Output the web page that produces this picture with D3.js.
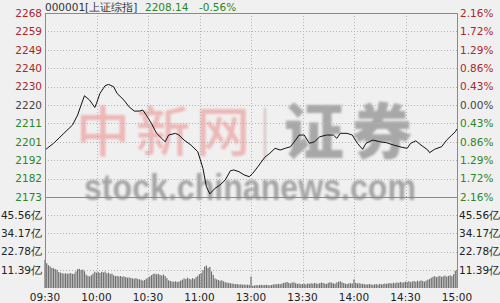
<!DOCTYPE html>
<html>
<head>
<meta charset="utf-8">
<script src="https://cdn.jsdelivr.net/npm/d3@7"></script>
<style>
  html, body { margin: 0; padding: 0; background: #f0f0f0; }
  svg { display: block; }
</style>
</head>
<body>
<div id="chart"></div>
<script>
// header
const indexName = "000001[上证综指]";
const lastPrice = "2208.14";
const lastChange = "-0.56%";
const preClose = 2220.57;

// price axis labels, top to bottom
const priceLabels = ["2268", "2259", "2249", "2240", "2230", "2220", "2211", "2201", "2192", "2182", "2173"];
const pctLabels = ["2.16%", "1.72%", "1.29%", "0.86%", "0.43%", "0.00%", "0.43%", "0.86%", "1.29%", "1.72%", "2.16%"];
const pctSteps = [5, 4, 3, 2, 1, 0, -1, -2, -3, -4, -5];

// volume axis (亿)
const volTicks = [45.56, 34.17, 22.78, 11.39];
const volMax = 56.95;

// time axis: minute index of the trading day (0..240)
const timeTicks = [0, 30, 60, 90, 120, 150, 180, 210, 240];
const timeLabels = ["09:30", "10:00", "10:30", "11:00", "13:00", "13:30", "14:00", "14:30", "15:00"];

// price line
const priceMinute = [0, 5, 11, 16, 19, 21, 23, 26, 29, 30, 32, 35, 37, 40, 42, 46, 49, 52, 55, 57, 59,
  62, 65, 68, 70, 72, 76, 78, 81, 85, 89, 92, 94, 96, 99, 102, 105, 108, 110, 113, 116, 119,
  121, 124, 128, 131, 134, 137, 140, 143, 146, 148, 151, 154, 157, 160, 164, 168, 170, 172, 176, 179,
  182, 185, 187, 191, 195, 199, 203, 208, 211, 213, 216, 219, 223, 224, 227, 231, 234, 237, 239, 240];
const priceValue = [2197.1, 2200.6, 2205.8, 2210.1, 2215.3, 2220.5, 2225.4, 2223.1, 2219.3, 2221.4, 2226.6, 2230.6, 2231.3, 2230.1, 2226.6, 2223.1, 2219.6, 2217.4, 2217.4, 2217.9, 2215.3,
  2211.0, 2205.8, 2203.2, 2201.4, 2204.9, 2205.8, 2204.9, 2202.3, 2199.7, 2196.2, 2187.6, 2178.0, 2174.2, 2177.1, 2178.9, 2181.5, 2186.3, 2186.7, 2185.8, 2184.1, 2183.2,
  2184.9, 2188.4, 2193.3, 2195.4, 2198.0, 2197.1, 2198.0, 2198.8, 2202.3, 2204.9, 2204.9, 2200.6, 2201.4, 2204.0, 2204.9, 2204.9, 2203.2, 2205.8, 2205.8, 2204.9,
  2200.6, 2197.5, 2200.6, 2202.3, 2201.4, 2200.9, 2199.7, 2198.5, 2198.0, 2200.6, 2201.9, 2199.7, 2197.1, 2195.7, 2197.5, 2198.8, 2202.3, 2204.9, 2206.6, 2208.1];

// volume per minute (亿), minute 0..240
const volume = [
  17.6, 15.5, 14.3, 13.5, 12.6, 12.4, 11.8, 11.4, 10.0, 9.6,
  9.3, 9.0, 9.2, 8.9, 9.1, 9.3, 8.8, 9.0, 10.4, 11.8,
  12.0, 11.2, 11.6, 10.5, 8.4, 7.6, 7.2, 8.0, 9.0, 10.2,
  9.6, 10.0, 9.4, 10.1, 9.8, 10.3, 9.2, 9.6, 8.8, 9.0,
  8.0, 7.4, 7.6, 7.2, 7.5, 7.0, 7.3, 6.8, 6.5, 6.6,
  6.3, 6.0, 5.8, 6.2, 5.6, 5.4, 5.2, 4.6, 5.0, 5.8,
  6.4, 7.2, 8.0, 8.8, 9.0, 8.6, 8.9, 8.2, 7.8, 8.4,
  7.5, 6.2, 4.8, 4.4, 4.1, 3.9, 4.2, 3.8, 4.0, 4.6,
  5.2, 6.0, 5.6, 6.4, 5.8, 5.4, 6.2, 5.6, 6.8, 7.6,
  8.6, 9.4, 11.2, 13.4, 14.0, 12.6, 13.2, 10.4, 8.2, 6.0,
  5.4, 5.0, 4.6, 4.8, 4.2, 3.6, 3.4, 3.2, 3.0, 2.8,
  2.6, 2.4, 2.5, 2.2, 2.3, 2.1, 2.2, 2.0, 2.1, 1.9,
  7.2, 1.4, 1.6, 1.8, 1.7, 1.9, 2.0, 1.8, 1.9, 2.0,
  1.8, 1.7, 1.9, 2.2, 2.4, 2.3, 2.6, 2.4, 2.8, 3.2,
  3.4, 3.8, 3.2, 2.9, 3.4, 3.6, 3.0, 2.6, 2.8, 2.4,
  2.5, 2.7, 2.3, 2.8, 2.6, 3.0, 2.7, 3.2, 2.9, 2.6,
  3.0, 3.4, 3.1, 2.8, 2.5, 3.2, 3.6, 3.3, 2.9, 2.7,
  3.5, 3.9, 4.2, 3.6, 3.1, 2.7, 2.5, 2.9, 3.0, 2.8,
  5.4, 3.2, 2.9, 3.0, 2.7, 2.6, 2.4, 2.2, 2.3, 2.5,
  2.2, 2.0, 2.3, 2.4, 2.1, 2.6, 2.3, 2.5, 2.8, 2.6,
  2.9, 3.1, 2.8, 3.3, 3.0, 3.5, 3.2, 3.8, 3.4, 3.6,
  4.0, 3.7, 4.3, 3.6, 4.1, 4.4, 3.9, 4.6, 4.2, 4.8,
  4.4, 4.0, 4.6, 5.2, 5.6, 6.4, 7.0, 7.4, 6.8, 7.2,
  7.6, 7.0, 7.3, 7.8, 7.1, 7.6, 8.0, 7.4, 8.6, 10.8,
  11.4];

const width = 500, height = 303;
const plotLeft = 45, plotRight = 457, plotTop = 13, plotMid = 197, plotBottom = 288;
const red = "#a8282c", green = "#2a862a", neutral = "#444";
const frame = "#7f8d9a", grid = "#b4b4b4";
const font = "'DejaVu Sans', Verdana, sans-serif";

const svg = d3.select("#chart").append("svg")
    .attr("width", width)
    .attr("height", height);

svg.append("rect").attr("width", width).attr("height", height).attr("fill", "#f0f0f0");

const x = d3.scaleLinear().domain([0, 240]).range([plotLeft, plotRight]);
const pctStep = 0.00432;
const yP = d3.scaleLinear()
    .domain([preClose * (1 - 5 * pctStep), preClose * (1 + 5 * pctStep)])
    .range([plotMid, plotTop]);
const yV = d3.scaleLinear().domain([0, volMax]).range([plotBottom, plotMid]);

// watermark
const defs = svg.append("defs");
defs.append("filter").attr("id", "soft")
    .append("feGaussianBlur").attr("stdDeviation", 0.9);

const wm = svg.append("g").attr("filter", "url(#soft)");
wm.append("text")
    .attr("x", 76).attr("y", 152)
    .attr("font-family", "'Noto Sans CJK SC'")
    .attr("font-weight", 500)
    .attr("font-size", 54)
    .attr("letter-spacing", 6)
    .attr("fill", "#eeb7b7")
    .text("中新网");
wm.append("line")
    .attr("x1", 265).attr("x2", 265).attr("y1", 108).attr("y2", 160)
    .attr("stroke", "#cdc2bc").attr("stroke-width", 2);
wm.append("text")
    .attr("x", 284).attr("y", 154)
    .attr("font-family", "'Noto Sans CJK SC'")
    .attr("font-weight", 900)
    .attr("font-size", 60)
    .attr("letter-spacing", 8)
    .attr("fill", "#a8a8a8")
    .text("证券");
wm.append("text")
    .attr("x", 84).attr("y", 200)
    .attr("font-family", "'Liberation Sans', Arial, sans-serif")
    .attr("font-weight", 700)
    .attr("font-size", 36)
    .attr("textLength", 332)
    .attr("lengthAdjust", "spacingAndGlyphs")
    .attr("fill", "#a4a4a4")
    .text("stock.chinanews.com");

// grid
const gridG = svg.append("g")
    .attr("stroke", grid)
    .attr("stroke-dasharray", "1,2")
    .attr("shape-rendering", "crispEdges");

gridG.selectAll("line.h")
    .data(pctSteps.slice(1, -1))
    .join("line")
    .attr("x1", plotLeft).attr("x2", plotRight)
    .attr("y1", d => Math.round(yP(preClose * (1 + d * pctStep))) + 0.5)
    .attr("y2", d => Math.round(yP(preClose * (1 + d * pctStep))) + 0.5);

gridG.selectAll("line.v")
    .data(volTicks)
    .join("line")
    .attr("x1", plotLeft).attr("x2", plotRight)
    .attr("y1", d => Math.round(yV(d)) + 0.5)
    .attr("y2", d => Math.round(yV(d)) + 0.5);

gridG.selectAll("line.t")
    .data(timeTicks.slice(1, -1))
    .join("line")
    .attr("x1", d => Math.round(x(d)) + 0.5)
    .attr("x2", d => Math.round(x(d)) + 0.5)
    .attr("y1", plotTop).attr("y2", plotBottom);

// volume bars
svg.append("g")
    .selectAll("rect")
    .data(volume)
    .join("rect")
    .attr("x", (d, i) => x(i) - 0.6)
    .attr("width", 1.2)
    .attr("y", d => yV(d))
    .attr("height", d => yV(0) - yV(d))
    .attr("fill", "#707070");

// price line
const line = d3.line()
    .x((d, i) => x(priceMinute[i]))
    .y(d => yP(d));

svg.append("path")
    .datum(priceValue)
    .attr("d", line)
    .attr("fill", "none")
    .attr("stroke", "#111")
    .attr("stroke-width", 1);

// frame
const fr = svg.append("g").attr("stroke", frame).attr("shape-rendering", "crispEdges");
fr.append("line").attr("x1", plotLeft + 0.5).attr("x2", plotLeft + 0.5).attr("y1", plotTop).attr("y2", plotBottom);
fr.append("line").attr("x1", plotRight + 0.5).attr("x2", plotRight + 0.5).attr("y1", plotTop).attr("y2", plotBottom);
fr.append("line").attr("x1", plotLeft).attr("x2", plotRight + 1).attr("y1", plotTop + 0.5).attr("y2", plotTop + 0.5);
fr.append("line").attr("x1", plotLeft).attr("x2", plotRight + 1).attr("y1", plotMid + 0.5).attr("y2", plotMid + 0.5);

// price axis labels
const labelColor = s => s > 0 ? red : (s < 0 ? green : neutral);

svg.append("g")
    .selectAll("text")
    .data(pctSteps)
    .join("text")
    .attr("x", plotLeft - 3)
    .attr("y", d => yP(preClose * (1 + d * pctStep)))
    .attr("dy", "0.36em")
    .attr("text-anchor", "end")
    .attr("font-family", font)
    .attr("font-size", 10.5)
    .attr("fill", labelColor)
    .text((d, i) => priceLabels[i]);

svg.append("g")
    .selectAll("text")
    .data(pctSteps)
    .join("text")
    .attr("x", plotRight + 3)
    .attr("y", d => yP(preClose * (1 + d * pctStep)))
    .attr("dy", "0.36em")
    .attr("font-family", font)
    .attr("font-size", 10.5)
    .attr("fill", labelColor)
    .text((d, i) => pctLabels[i]);

// volume axis labels
const volFmt = d => d3.format(".2f")(d) + "亿";
svg.append("g")
    .selectAll("text")
    .data(volTicks)
    .join("text")
    .attr("x", plotLeft - 3)
    .attr("y", d => yV(d))
    .attr("dy", "0.36em")
    .attr("text-anchor", "end")
    .attr("font-family", font)
    .attr("font-size", 10.5)
    .attr("fill", "#222")
    .text(volFmt);

svg.append("g")
    .selectAll("text")
    .data(volTicks)
    .join("text")
    .attr("x", plotRight + 2)
    .attr("y", d => yV(d))
    .attr("dy", "0.36em")
    .attr("font-family", font)
    .attr("font-size", 10.5)
    .attr("fill", "#222")
    .text(volFmt);

// time axis labels
svg.append("g")
    .selectAll("text")
    .data(timeTicks)
    .join("text")
    .attr("x", d => x(d))
    .attr("y", 301)
    .attr("text-anchor", "middle")
    .attr("font-family", font)
    .attr("font-size", 10.5)
    .attr("fill", "#222")
    .text((d, i) => timeLabels[i]);

// header
const head = svg.append("text")
    .attr("x", plotLeft)
    .attr("y", 11)
    .attr("font-family", font)
    .attr("font-size", 10.5);
head.append("tspan").attr("fill", "#333").text(indexName);
head.append("tspan").attr("x", 145).attr("fill", green).text(lastPrice);
head.append("tspan").attr("x", 199).attr("fill", green).text(lastChange);
</script>
</body>
</html>
